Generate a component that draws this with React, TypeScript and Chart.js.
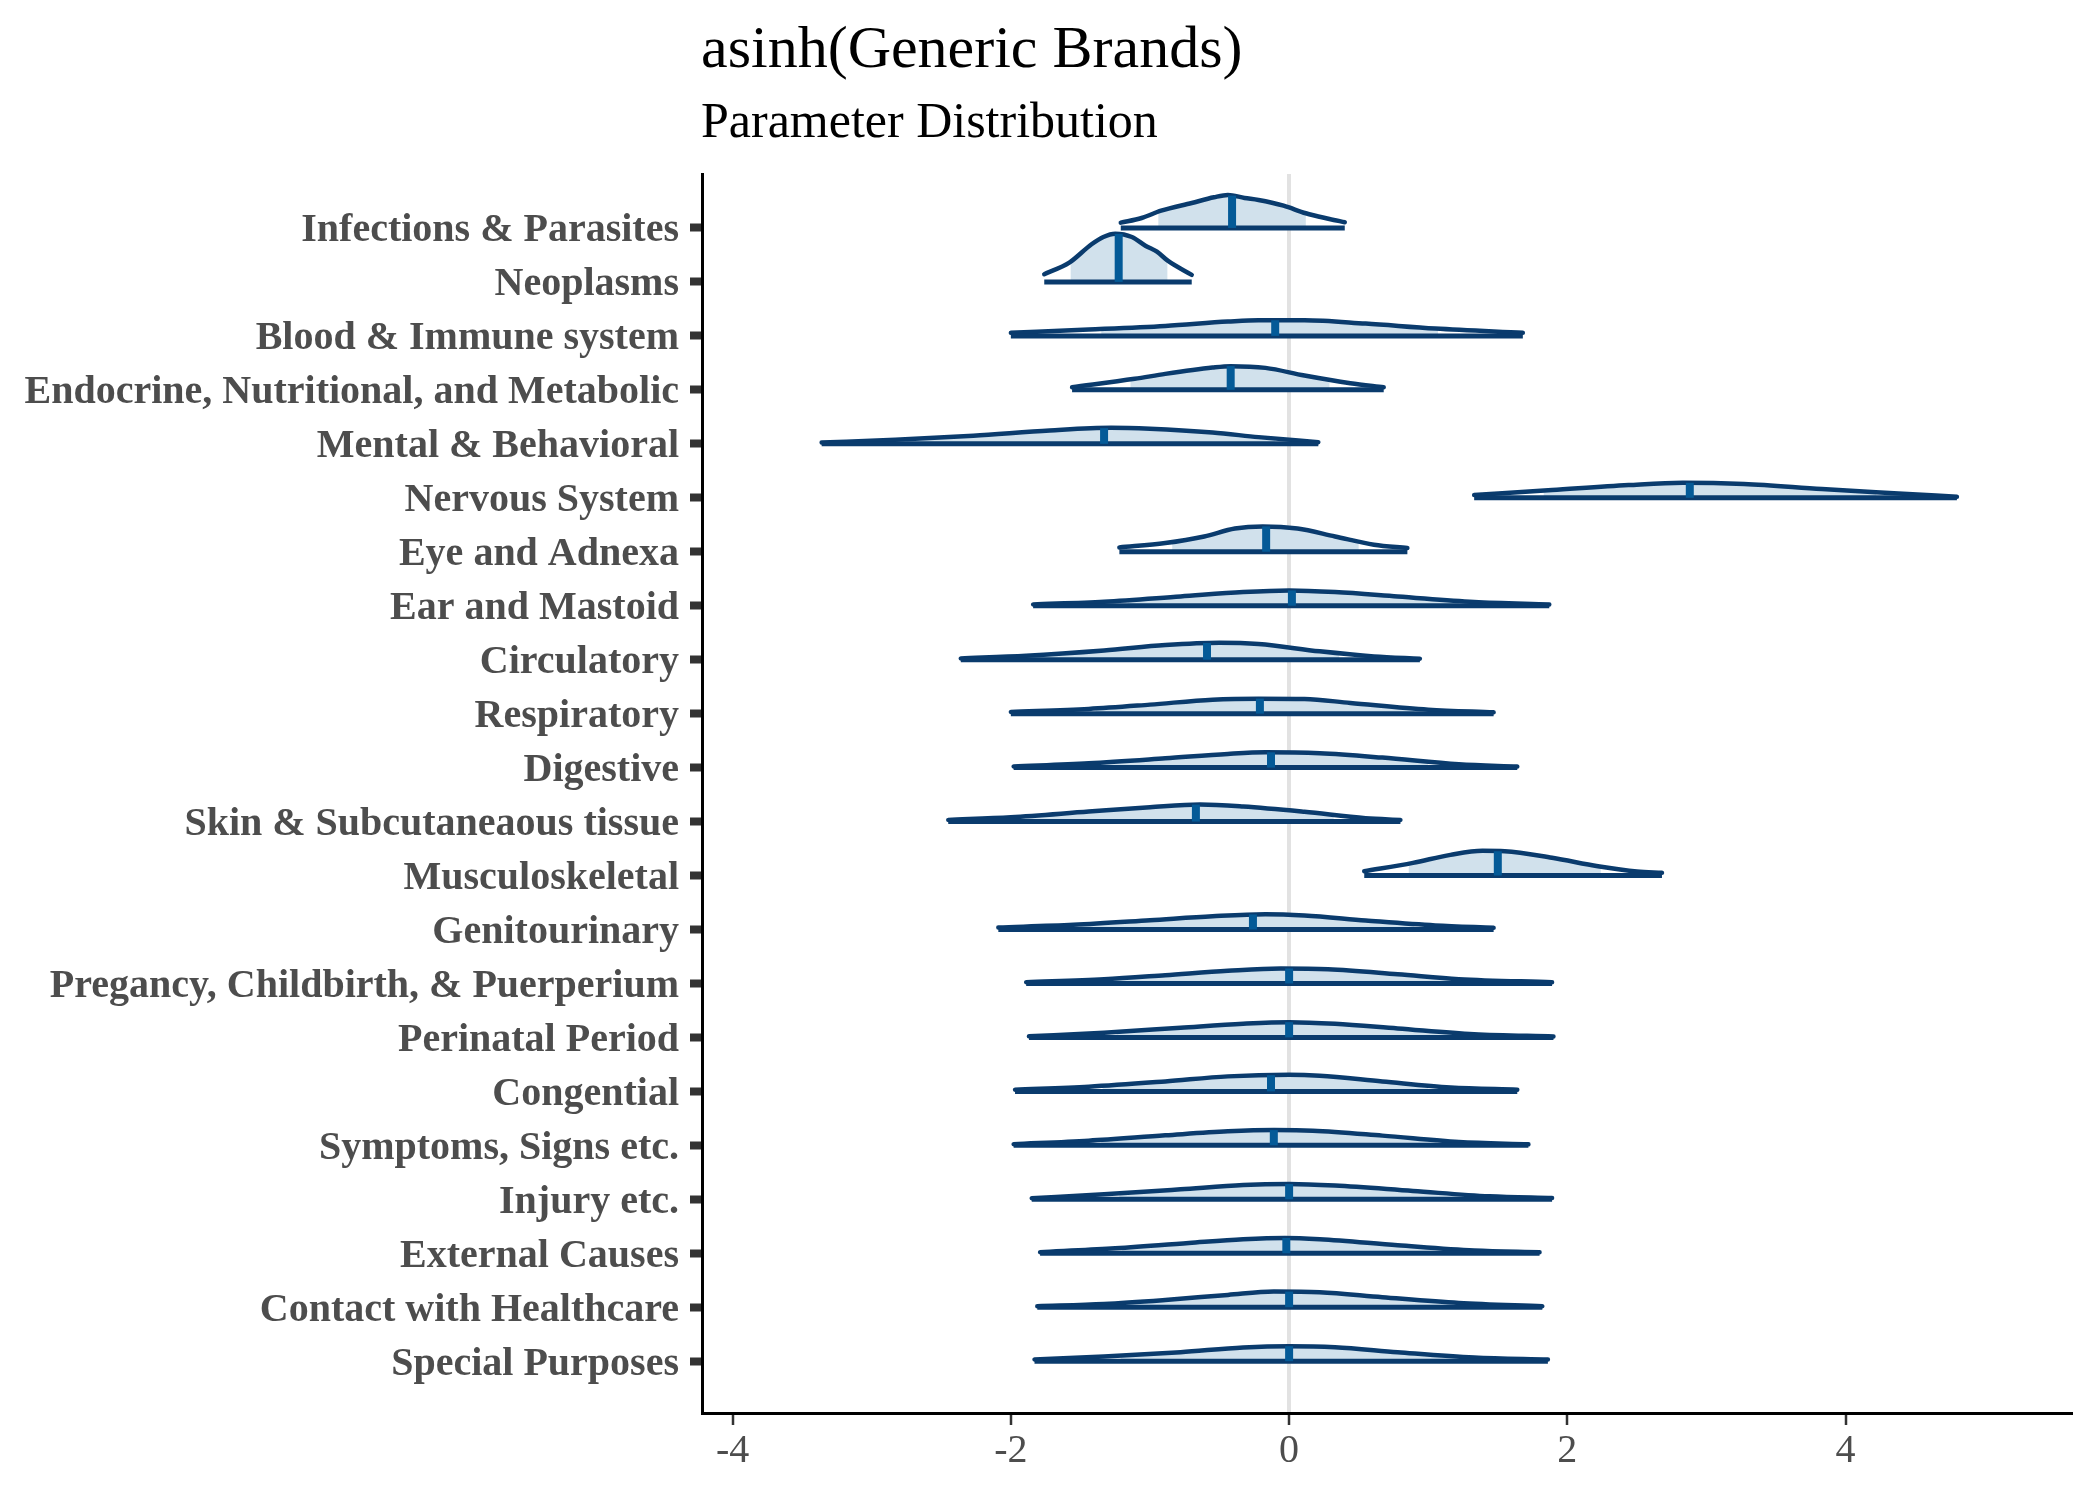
import React, { useEffect, useRef } from 'react';
import { Chart, registerables } from 'chart.js';

const chartTitle = 'asinh(Generic Brands)';
const chartSubtitle = 'Parameter Distribution';

const categories = [
  'Infections & Parasites',
  'Neoplasms',
  'Blood & Immune system',
  'Endocrine, Nutritional, and Metabolic',
  'Mental & Behavioral',
  'Nervous System',
  'Eye and Adnexa',
  'Ear and Mastoid',
  'Circulatory',
  'Respiratory',
  'Digestive',
  'Skin & Subcutaneaous tissue',
  'Musculoskeletal',
  'Genitourinary',
  'Pregancy, Childbirth, & Puerperium',
  'Perinatal Period',
  'Congential',
  'Symptoms, Signs etc.',
  'Injury etc.',
  'External Causes',
  'Contact with Healthcare',
  'Special Purposes',
];

// x positions where the density outline was read
const densityX = [
  [-1.21, -1.06, -0.92, -0.7, -0.54, -0.44, -0.32, -0.22, -0.04, 0.12, 0.29, 0.4],
  [-1.76, -1.58, -1.42, -1.335, -1.25, -1.13, -1.03, -0.95, -0.87, -0.7],
  [-2.0, -1.44, -0.89, -0.44, -0.22, 0.11, 0.55, 1.05, 1.68],
  [-1.56, -1.11, -0.89, -0.55, -0.42, -0.17, 0.11, 0.44, 0.68],
  [-3.36, -2.83, -2.27, -1.72, -1.28, -1.0, -0.55, -0.22, 0.21],
  [1.33, 1.89, 2.44, 2.83, 3.27, 3.83, 4.38, 4.8],
  [-1.22, -0.89, -0.61, -0.39, -0.19, 0.06, 0.33, 0.61, 0.85],
  [-1.84, -1.33, -0.78, -0.33, 0, 0.33, 0.78, 1.33, 1.87],
  [-2.36, -1.89, -1.33, -0.89, -0.5, -0.22, 0.22, 0.61, 0.94],
  [-2.0, -1.44, -1.0, -0.55, -0.22, 0.11, 0.44, 1.0, 1.47],
  [-1.98, -1.44, -0.89, -0.44, -0.17, 0.22, 0.67, 1.22, 1.64],
  [-2.45, -2.0, -1.44, -1.0, -0.64, -0.33, 0.11, 0.55, 0.8],
  [0.54, 0.89, 1.16, 1.39, 1.55, 1.89, 2.22, 2.5, 2.68],
  [-2.09, -1.55, -1.0, -0.55, -0.17, 0.11, 0.55, 1.05, 1.47],
  [-1.89, -1.33, -0.89, -0.44, -0.06, 0.28, 0.78, 1.22, 1.89],
  [-1.87, -1.33, -0.78, -0.33, 0, 0.33, 0.78, 1.33, 1.9],
  [-1.97, -1.44, -0.89, -0.44, 0, 0.22, 0.67, 1.16, 1.64],
  [-1.98, -1.44, -0.89, -0.44, -0.11, 0.17, 0.67, 1.22, 1.72],
  [-1.85, -1.33, -0.78, -0.33, 0, 0.33, 0.89, 1.44, 1.89],
  [-1.79, -1.28, -0.72, -0.33, -0.03, 0.22, 0.78, 1.33, 1.8],
  [-1.81, -1.33, -0.89, -0.44, -0.11, 0.22, 0.67, 1.22, 1.82],
  [-1.83, -1.33, -0.78, -0.33, 0, 0.33, 0.78, 1.33, 1.86],
];

// density height at those x positions (in row units)
const densityH = [
  [0.098, 0.185, 0.32, 0.463, 0.568, 0.611, 0.556, 0.519, 0.413, 0.272, 0.167, 0.106],
  [0.143, 0.357, 0.698, 0.833, 0.894, 0.833, 0.667, 0.561, 0.389, 0.13],
  [0.056, 0.117, 0.185, 0.265, 0.291, 0.291, 0.228, 0.135, 0.056],
  [0.05, 0.204, 0.296, 0.413, 0.439, 0.407, 0.265, 0.124, 0.05],
  [0.024, 0.074, 0.148, 0.246, 0.296, 0.278, 0.209, 0.124, 0.031],
  [0.05, 0.143, 0.235, 0.278, 0.254, 0.161, 0.08, 0.019],
  [0.08, 0.161, 0.283, 0.43, 0.47, 0.43, 0.283, 0.13, 0.069],
  [0.024, 0.074, 0.172, 0.254, 0.283, 0.254, 0.172, 0.069, 0.024],
  [0.024, 0.074, 0.172, 0.272, 0.315, 0.291, 0.154, 0.061, 0.019],
  [0.031, 0.087, 0.167, 0.259, 0.278, 0.272, 0.198, 0.074, 0.024],
  [0.02, 0.08, 0.172, 0.254, 0.283, 0.265, 0.185, 0.061, 0.019],
  [0.031, 0.08, 0.185, 0.265, 0.315, 0.278, 0.18, 0.061, 0.031],
  [0.08, 0.235, 0.383, 0.457, 0.45, 0.328, 0.172, 0.074, 0.05],
  [0.037, 0.087, 0.172, 0.246, 0.283, 0.259, 0.167, 0.074, 0.031],
  [0.024, 0.08, 0.154, 0.235, 0.278, 0.265, 0.172, 0.08, 0.024],
  [0.02, 0.087, 0.18, 0.254, 0.283, 0.254, 0.167, 0.061, 0.019],
  [0.031, 0.087, 0.185, 0.278, 0.309, 0.291, 0.185, 0.074, 0.031],
  [0.02, 0.087, 0.185, 0.259, 0.283, 0.272, 0.18, 0.061, 0.019],
  [0.02, 0.093, 0.185, 0.265, 0.283, 0.254, 0.154, 0.056, 0.024],
  [0.02, 0.087, 0.191, 0.259, 0.283, 0.259, 0.148, 0.05, 0.019],
  [0.02, 0.061, 0.135, 0.228, 0.291, 0.278, 0.185, 0.08, 0.019],
  [0.031, 0.087, 0.167, 0.254, 0.278, 0.259, 0.167, 0.069, 0.031],
];

const medians = [
  -0.41, -1.225, -0.1, -0.42, -1.33, 2.88, -0.165, 0.02, -0.59, -0.21, -0.13,
  -0.67, 1.5, -0.26, 0, 0, -0.13, -0.11, 0, -0.02, 0, 0,
];
const medianHeights = [
  0.6, 0.89, 0.29, 0.44, 0.29, 0.278, 0.47, 0.283, 0.31, 0.278, 0.283,
  0.315, 0.45, 0.28, 0.278, 0.283, 0.3, 0.283, 0.283, 0.283, 0.29, 0.278,
];
const intervalLow = [
  -0.94, -1.57, -1.35, -1.14, -2.75, 1.83, -0.84, -1.16, -1.94, -1.39, -1.35,
  -2.05, 0.86, -1.5, -1.25, -1.24, -1.34, -1.35, -1.22, -1.2, -1.2, -1.21,
];
const intervalHigh = [
  0.12, -0.875, 1.07, 0.29, -0.1, 4.22, 0.5, 1.22, 0.36, 0.9, 1.0,
  0.32, 2.24, 0.9, 1.25, 1.25, 1.0, 1.06, 1.25, 1.18, 1.2, 1.23,
];
const xTicks = [-4, -2, 0, 2, 4];

const DARK = '#0a3b6d';
const MEDIAN = '#045a97';
const FILL = '#d1e1ec';
const FONT = '"Liberation Serif", "Times New Roman", serif';

const intervalClip = {
  id: 'intervalClip',
  beforeDatasetDraw(chart: any, args: any) {
    const ds = chart.data.datasets[args.index];
    if (!ds || !ds.interval) return;
    const { ctx, chartArea, scales } = chart;
    const x0 = scales.x.getPixelForValue(ds.interval[0]);
    const x1 = scales.x.getPixelForValue(ds.interval[1]);
    ctx.save();
    ctx.beginPath();
    ctx.rect(x0, chartArea.top, x1 - x0, chartArea.bottom - chartArea.top);
    ctx.clip();
  },
  afterDatasetDraw(chart: any, args: any) {
    const ds = chart.data.datasets[args.index];
    if (!ds || !ds.interval) return;
    chart.ctx.restore();
  },
};
Chart.register(intervalClip);
Chart.register(...registerables);

const titlePlugin = {
  id: 'ggTitles',
  afterDraw(chart: any) {
    const ctx = chart.ctx;
    const left = chart.chartArea.left - 1;
    ctx.save();
    ctx.fillStyle = '#000000';
    ctx.textAlign = 'left';
    ctx.textBaseline = 'alphabetic';
    ctx.font = `60px ${FONT}`;
    ctx.fillText(chartTitle, left, 67);
    ctx.font = `50px ${FONT}`;
    ctx.fillText(chartSubtitle, left, 137);
    ctx.restore();
  },
};

export default function App() {
  const ref = useRef<HTMLCanvasElement | null>(null);

  useEffect(() => {
    if (!ref.current) return;
    const N = categories.length;
    const datasets: any[] = [];
    categories.forEach((_, i) => {
      const base = N - 1 - i;
      const xs = densityX[i];
      const pts = xs.map((x, k) => ({ x, y: base + densityH[i][k] }));
      datasets.push({
        data: pts,
        interval: [intervalLow[i], intervalHigh[i]],
        fill: { value: base },
        backgroundColor: FILL,
        borderColor: 'rgba(0,0,0,0)',
        borderWidth: 0,
        pointRadius: 0,
        cubicInterpolationMode: 'monotone',
        order: 4,
      });
      datasets.push({
        data: pts,
        fill: false,
        borderColor: DARK,
        borderWidth: 4.5,
        borderCapStyle: 'round',
        borderJoinStyle: 'round',
        pointRadius: 0,
        cubicInterpolationMode: 'monotone',
        order: 3,
      });
      datasets.push({
        data: [
          { x: xs[0], y: base },
          { x: xs[xs.length - 1], y: base },
        ],
        fill: false,
        borderColor: DARK,
        borderWidth: 5,
        pointRadius: 0,
        order: 2,
      });
      datasets.push({
        data: [
          { x: medians[i], y: base },
          { x: medians[i], y: base + medianHeights[i] },
        ],
        fill: false,
        borderColor: MEDIAN,
        borderWidth: 8,
        pointRadius: 0,
        order: 1,
      });
    });

    const chart = new Chart(ref.current, {
      type: 'line',
      data: { datasets },
      plugins: [titlePlugin],
      options: {
        responsive: false,
        animation: false,
        devicePixelRatio: 1,
        layout: { padding: { top: 174, right: 29, left: 0, bottom: 0 } },
        plugins: {
          legend: { display: false },
          tooltip: { enabled: false },
          title: { display: false },
        },
        elements: { point: { radius: 0 } },
        scales: {
          x: {
            type: 'linear',
            min: -4.22,
            max: 5.62,
            afterBuildTicks: (s: any) => {
              s.ticks = xTicks.map((v) => ({ value: v }));
            },
            afterFit: (s: any) => {
              s.height = 86;
            },
            grid: {
              drawOnChartArea: true,
              color: (c: any) =>
                c.tick && c.tick.value === 0 ? '#e2e2e2' : 'rgba(0,0,0,0)',
              lineWidth: 4,
              tickColor: '#333333',
              tickWidth: 2.5,
              tickLength: 12,
            },
            border: { display: true, color: '#000000', width: 3 },
            ticks: {
              color: '#4d4d4d',
              font: { family: FONT, size: 40 },
              padding: 2,
              maxRotation: 0,
              autoSkip: false,
            },
          },
          y: {
            type: 'linear',
            min: -0.96,
            max: 22,
            afterBuildTicks: (s: any) => {
              s.ticks = categories.map((_, i) => ({ value: i }));
            },
            afterFit: (s: any) => {
              s.width = 702;
            },
            grid: {
              drawOnChartArea: false,
              tickColor: '#333333',
              tickWidth: 8,
              tickLength: 12,
            },
            border: { display: true, color: '#000000', width: 3 },
            ticks: {
              callback: (v: any) => categories[N - 1 - Math.round(Number(v))],
              color: '#4d4d4d',
              font: { family: FONT, size: 40, weight: 'bold' },
              padding: 11,
              labelOffset: 3,
              autoSkip: false,
            },
          },
        },
      } as any,
    });
    return () => chart.destroy();
  }, []);

  return (
    <div style={{ position: 'absolute', left: 0, top: 0, width: 2100, height: 1499, background: '#ffffff' }}>
      <canvas ref={ref} width={2100} height={1499} style={{ display: 'block' }} />
    </div>
  );
}
